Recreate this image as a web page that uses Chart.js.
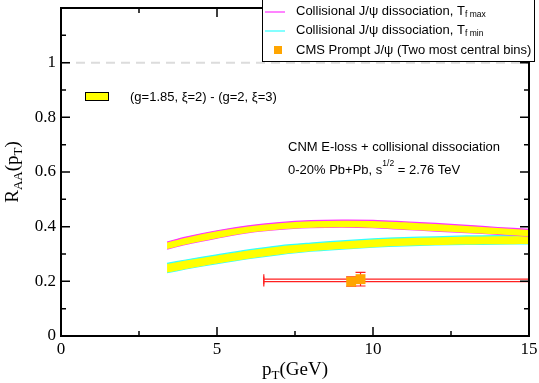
<!DOCTYPE html>
<html>
<head>
<meta charset="utf-8">
<script src="https://cdn.jsdelivr.net/npm/chart.js@4"></script>
<style>
  body { margin: 0; background: #fff; }
  #wrap { width: 539px; height: 383px; }
</style>
</head>
<body>
<div id="wrap"><canvas id="raaChart" width="539" height="383"></canvas></div>
<script>
// pT grid of the model bands (GeV)
const ptGrid = [3.4, 4, 5, 6, 7, 8, 9, 10, 11, 12, 13, 14, 15];
// Tf max band (edges)
const tfMaxUpper = [0.344, 0.362, 0.385, 0.403, 0.415, 0.422, 0.424, 0.423, 0.418, 0.412, 0.405, 0.397, 0.390];
const tfMaxLower = [0.318, 0.335, 0.358, 0.378, 0.390, 0.396, 0.398, 0.396, 0.390, 0.384, 0.378, 0.372, 0.365];
// Tf min band (edges)
const tfMinUpper = [0.266, 0.278, 0.297, 0.315, 0.330, 0.340, 0.348, 0.355, 0.360, 0.363, 0.366, 0.367, 0.368];
const tfMinLower = [0.232, 0.245, 0.265, 0.283, 0.298, 0.310, 0.318, 0.325, 0.330, 0.333, 0.335, 0.336, 0.337];
// CMS prompt J/psi, two most central bins
const cmsPt = [9.3, 9.6];
const cmsRaa = [0.199, 0.208];
const cmsPtLow = [6.5, 6.5];
const cmsPtHigh = [15, 15];
const cmsRaaLow = [0.182, 0.183];
const cmsRaaHigh = [0.216, 0.233];
// axis ticks
const xTicks = [0, 5, 10, 15];
const yTicks = [0, 0.2, 0.4, 0.6, 0.8, 1];

const toXY = (xs, ys) => xs.map((x, i) => ({ x: x, y: ys[i] }));

// draw a string made of pieces with their own size / vertical shift
function richText(ctx, parts, x, y, align) {
  let w = 0;
  parts.forEach(p => { ctx.font = p.font; w += ctx.measureText(p.t).width; });
  let cx = align === 'center' ? x - w / 2 : x;
  parts.forEach(p => {
    ctx.font = p.font;
    ctx.fillText(p.t, cx, y + (p.dy || 0));
    cx += ctx.measureText(p.t).width;
  });
}

const decor = {
  id: 'decor',
  beforeDatasetsDraw(chart) {
    const ctx = chart.ctx, xs = chart.scales.x, ys = chart.scales.y;
    const a = chart.chartArea;
    ctx.save();
    // dashed line at RAA = 1
    ctx.strokeStyle = '#dcdcdc';
    ctx.lineWidth = 2;
    ctx.setLineDash([9, 6]);
    ctx.beginPath();
    ctx.moveTo(a.left, ys.getPixelForValue(1));
    ctx.lineTo(a.right, ys.getPixelForValue(1));
    ctx.stroke();
    ctx.setLineDash([]);
    // CMS error bars
    ctx.strokeStyle = '#ff2020';
    ctx.lineWidth = 1.2;
    cmsPt.forEach((p, i) => {
      const y = ys.getPixelForValue(cmsRaa[i]);
      const x0 = xs.getPixelForValue(cmsPtLow[i]);
      const x1 = Math.min(xs.getPixelForValue(cmsPtHigh[i]), a.right);
      const x = xs.getPixelForValue(p);
      const yl = ys.getPixelForValue(cmsRaaLow[i]);
      const yh = ys.getPixelForValue(cmsRaaHigh[i]);
      ctx.beginPath();
      ctx.moveTo(x0, y); ctx.lineTo(x1, y);
      ctx.moveTo(x0, y - 5); ctx.lineTo(x0, y + 5);
      ctx.moveTo(x, yl); ctx.lineTo(x, yh);
      ctx.moveTo(x - 5, yl); ctx.lineTo(x + 5, yl);
      ctx.moveTo(x - 5, yh); ctx.lineTo(x + 5, yh);
      ctx.stroke();
    });
    ctx.restore();
  },
  afterDraw(chart) {
    const ctx = chart.ctx, xs = chart.scales.x, ys = chart.scales.y;
    const a = chart.chartArea;
    ctx.save();
    // frame
    ctx.strokeStyle = '#000';
    ctx.lineWidth = 2;
    ctx.strokeRect(a.left, a.top, a.right - a.left, a.bottom - a.top);
    // inward ticks, major and minor
    ctx.lineWidth = 1.5;
    ctx.beginPath();
    for (let v = 0; v <= 15.001; v += 2.5) {
      const x = xs.getPixelForValue(v);
      const len = Math.abs(v % 5) < 0.01 ? 9 : 5;
      ctx.moveTo(x, a.bottom); ctx.lineTo(x, a.bottom - len);
      ctx.moveTo(x, a.top); ctx.lineTo(x, a.top + len);
    }
    for (let v = 0; v <= 1.2001; v += 0.1) {
      const y = ys.getPixelForValue(v);
      const len = Math.round(v * 10) % 2 === 0 ? 9 : 5;
      ctx.moveTo(a.left, y); ctx.lineTo(a.left + len, y);
      ctx.moveTo(a.right, y); ctx.lineTo(a.right - len, y);
    }
    ctx.stroke();

    ctx.fillStyle = '#000';
    ctx.textBaseline = 'middle';
    // axis titles
    const serif = s => s + 'px "Liberation Serif", "Times New Roman", serif';
    richText(ctx, [
      { t: 'p', font: serif(19) },
      { t: 'T', font: serif(13), dy: 6 },
      { t: '(GeV)', font: serif(19) }
    ], (a.left + a.right) / 2, 370, 'center');
    ctx.save();
    ctx.translate(13, 172);
    ctx.rotate(-Math.PI / 2);
    richText(ctx, [
      { t: 'R', font: serif(19) },
      { t: 'AA', font: serif(13), dy: 6 },
      { t: '(p', font: serif(19) },
      { t: 'T', font: serif(13), dy: 6 },
      { t: ')', font: serif(19) }
    ], 0, 0, 'center');
    ctx.restore();

    const sans = s => s + 'px "Liberation Sans", Arial, Helvetica, sans-serif';
    // series legend box
    ctx.fillStyle = '#fff';
    ctx.fillRect(262, -2, 273, 64);
    ctx.strokeStyle = '#000';
    ctx.lineWidth = 1;
    ctx.strokeRect(262.5, -2, 272, 63.5);
    ctx.lineWidth = 1.2;
    ctx.strokeStyle = '#ff33ff';
    ctx.beginPath(); ctx.moveTo(265, 12); ctx.lineTo(285, 12); ctx.stroke();
    ctx.strokeStyle = '#33ffff';
    ctx.beginPath(); ctx.moveTo(265, 31); ctx.lineTo(285, 31); ctx.stroke();
    ctx.fillStyle = '#ffa500';
    ctx.fillRect(274, 46, 8, 8);
    ctx.fillStyle = '#000';
    richText(ctx, [
      { t: 'Collisional J/\u03c8 dissociation, T', font: sans(13) },
      { t: 'f max', font: sans(8.5), dy: 4 }
    ], 296, 11, 'left');
    richText(ctx, [
      { t: 'Collisional J/\u03c8 dissociation, T', font: sans(13) },
      { t: 'f min', font: sans(8.5), dy: 4 }
    ], 296, 30, 'left');
    richText(ctx, [{ t: 'CMS Prompt J/\u03c8 (Two most central bins)', font: sans(13) }], 296, 50, 'left');

    // band legend
    ctx.fillStyle = '#ffff00';
    ctx.fillRect(85, 92, 24, 9);
    ctx.strokeStyle = '#000';
    ctx.lineWidth = 1;
    ctx.strokeRect(85.5, 92.5, 23, 8);
    ctx.fillStyle = '#000';
    richText(ctx, [{ t: '(g=1.85, \u03be=2) - (g=2, \u03be=3)', font: sans(13) }], 130, 97, 'left');

    // annotation
    richText(ctx, [{ t: 'CNM E-loss + collisional dissociation', font: sans(13) }], 288, 147, 'left');
    richText(ctx, [
      { t: '0-20% Pb+Pb, s', font: sans(13) },
      { t: '1/2', font: sans(8.5), dy: -6 },
      { t: ' = 2.76 TeV', font: sans(13) }
    ], 288, 170, 'left');
    ctx.restore();
  }
};

const bandLine = (data, color, fill) => ({
  type: 'line',
  data: data,
  borderColor: color,
  borderWidth: 1.2,
  backgroundColor: '#ffff00',
  fill: fill,
  pointRadius: 0,
  tension: 0.35
});

const ctx = document.getElementById('raaChart').getContext('2d');
new Chart(ctx, {
  type: 'scatter',
  data: {
    datasets: [
      bandLine(toXY(ptGrid, tfMaxUpper), '#ff33ff', '+1'),
      bandLine(toXY(ptGrid, tfMaxLower), '#ff33ff', false),
      bandLine(toXY(ptGrid, tfMinUpper), '#33ffff', '+1'),
      bandLine(toXY(ptGrid, tfMinLower), '#33ffff', false),
      {
        type: 'scatter',
        data: toXY(cmsPt, cmsRaa),
        pointStyle: 'rect',
        pointRadius: 7,
        backgroundColor: '#ffa500',
        borderColor: '#ffa500',
        borderWidth: 0
      }
    ]
  },
  options: {
    responsive: false,
    animation: false,
    layout: { padding: { top: 8, right: 10, left: 0, bottom: 0 } },
    plugins: { legend: { display: false }, tooltip: { enabled: false } },
    scales: {
      x: {
        type: 'linear', min: 0, max: 15,
        afterFit: s => { s.height = 47; s.paddingLeft = 0; s.paddingRight = 0; },
        afterBuildTicks: s => { s.ticks = xTicks.map(v => ({ value: v })); },
        grid: { display: false, drawTicks: false },
        border: { display: false },
        ticks: {
          padding: 3, color: '#000',
          font: { family: '"Liberation Serif", serif', size: 17 }
        }
      },
      y: {
        type: 'linear', min: 0, max: 1.2,
        afterFit: s => { s.width = 61; s.paddingTop = 0; s.paddingBottom = 0; },
        afterBuildTicks: s => { s.ticks = yTicks.map(v => ({ value: v })); },
        grid: { display: false, drawTicks: false },
        border: { display: false },
        ticks: {
          padding: 5, color: '#000',
          font: { family: '"Liberation Serif", serif', size: 17 },
          callback: v => String(+v.toFixed(1))
        }
      }
    }
  },
  plugins: [decor]
});
</script>
</body>
</html>
